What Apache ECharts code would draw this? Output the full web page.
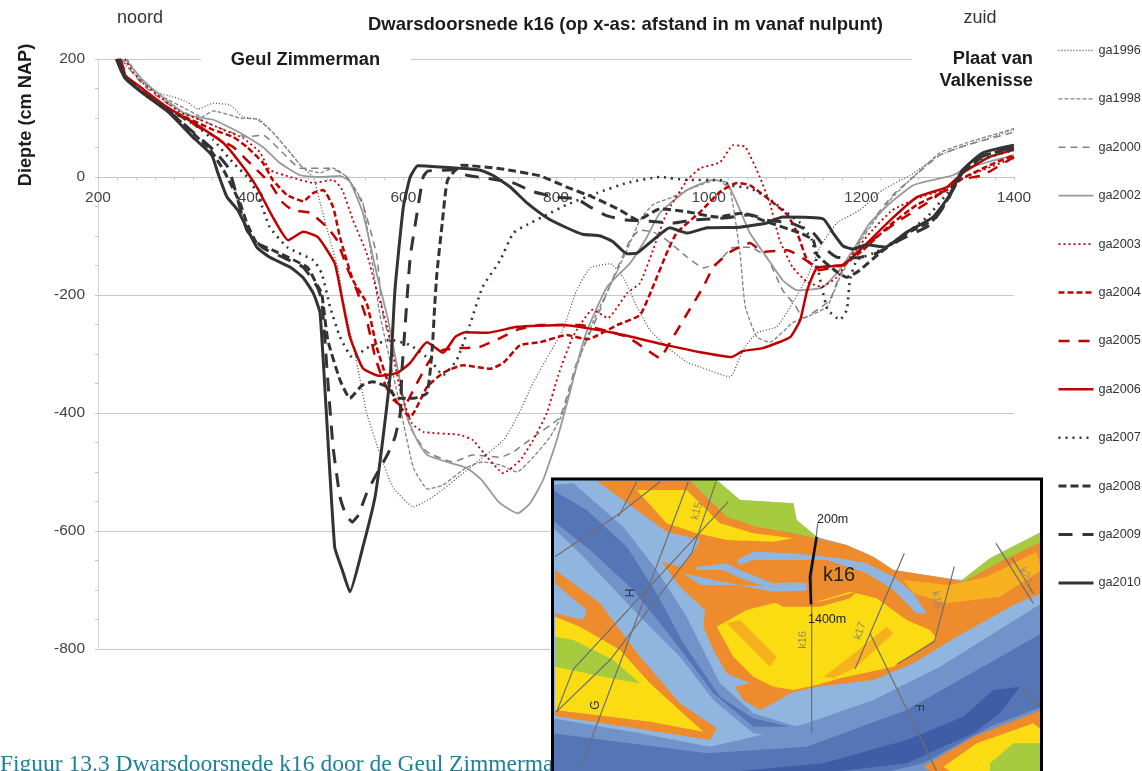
<!DOCTYPE html>
<html><head><meta charset="utf-8">
<style>html,body{margin:0;padding:0;background:#fff;overflow:hidden}#c{width:1142px;height:771px}</style>
<script src="https://cdn.jsdelivr.net/npm/echarts@6/dist/echarts.min.js"></script>
</head><body><div id="c"></div>
<script>
const yearNames=['ga1996','ga1998','ga2000','ga2002','ga2003','ga2004','ga2005','ga2006','ga2007','ga2008','ga2009','ga2010'];
const ga1996=[[229,200],[259,159],[275,144],[298,136],[317,127],[331,115],[351,125],[373,122],[390,102],[412,97],[429,75],[452,41],[469,15],[482,0],[491,-44],[504,-107],[514,-153],[521,-208],[539,-315],[552,-400],[569,-468],[586,-525],[613,-559],[639,-542],[683,-497],[731,-446],[749,-407],[770,-349],[792,-298],[809,-259],[827,-192],[845,-154],[871,-147],[888,-170],[906,-220],[923,-259],[945,-288],[972,-314],[989,-322],[1028,-339],[1045,-293],[1063,-264],[1089,-254],[1107,-220],[1129,-170],[1146,-119],[1168,-78],[1198,-56],[1228,-22],[1264,3],[1303,37],[1338,54],[1400,80]];
const ga1998=[[238,200],[259,161],[288,134],[317,114],[336,102],[351,112],[386,100],[408,98],[429,76],[452,41],[469,15],[491,7],[508,15],[526,0],[547,-44],[569,-231],[592,-366],[613,-492],[632,-529],[652,-522],[683,-492],[704,-483],[727,-488],[749,-500],[770,-475],[792,-441],[809,-400],[827,-322],[848,-247],[868,-192],[893,-124],[910,-73],[927,-47],[953,-34],[972,-22],[1011,-5],[1028,-22],[1041,-129],[1048,-220],[1063,-271],[1080,-280],[1110,-247],[1129,-237],[1155,-220],[1172,-170],[1194,-119],[1215,-78],[1241,-34],[1268,0],[1303,41],[1338,58],[1400,82]];
const ga2000=[[231,200],[259,156],[294,122],[334,97],[395,68],[416,71],[442,41],[465,15],[504,15],[526,0],[547,-47],[565,-132],[573,-231],[592,-322],[609,-424],[631,-466],[665,-483],[691,-471],[727,-475],[744,-466],[770,-441],[805,-407],[827,-315],[854,-237],[871,-183],[897,-107],[910,-90],[927,-93],[945,-107],[972,-136],[993,-154],[1011,-146],[1031,-120],[1054,-119],[1076,-136],[1097,-192],[1113,-217],[1124,-239],[1146,-222],[1159,-208],[1172,-166],[1194,-115],[1215,-73],[1241,-31],[1268,0],[1303,37],[1338,54],[1400,76]];
const ga2002=[[235,200],[259,164],[281,139],[317,105],[351,97],[386,75],[416,51],[438,24],[465,3],[491,0],[517,2],[530,-8],[547,-61],[565,-163],[580,-242],[592,-322],[605,-407],[618,-446],[631,-471],[657,-483],[683,-493],[703,-514],[723,-548],[736,-561],[750,-570],[766,-553],[783,-514],[801,-446],[818,-366],[829,-310],[841,-259],[867,-186],[897,-146],[919,-102],[936,-61],[972,-22],[1006,-5],[1024,-10],[1037,-44],[1054,-95],[1076,-136],[1097,-175],[1116,-192],[1148,-188],[1168,-163],[1189,-124],[1211,-78],[1238,-44],[1268,-14],[1294,-5],[1320,3],[1333,12],[1365,25],[1400,37]];
const ga2003=[[235,200],[246,178],[259,159],[307,110],[334,97],[364,80],[390,66],[412,42],[425,12],[452,0],[482,-10],[508,-5],[520,-22],[534,-73],[552,-129],[565,-192],[579,-254],[596,-361],[611,-417],[626,-432],[674,-437],[691,-446],[710,-475],[731,-502],[753,-480],[770,-446],[788,-400],[803,-336],[822,-271],[848,-225],[868,-239],[893,-197],[910,-180],[927,-124],[945,-61],[972,-5],[989,15],[1015,25],[1032,54],[1048,51],[1067,0],[1080,-44],[1093,-107],[1110,-153],[1129,-178],[1148,-186],[1168,-170],[1185,-137],[1211,-95],[1241,-56],[1273,-36],[1307,-22],[1333,-2],[1359,12],[1400,32]];
const ga2004=[[228,200],[238,168],[259,142],[294,114],[351,80],[377,68],[395,51],[416,24],[429,-5],[448,-31],[469,-41],[482,-27],[495,-22],[508,-51],[517,-102],[534,-175],[552,-214],[565,-288],[579,-344],[592,-383],[609,-407],[631,-356],[652,-332],[678,-319],[714,-325],[731,-315],[753,-285],[779,-280],[814,-268],[841,-275],[880,-251],[910,-234],[927,-186],[945,-129],[958,-95],[989,-59],[1015,-25],[1037,-10],[1054,-14],[1080,-39],[1103,-64],[1116,-95],[1129,-141],[1142,-153],[1176,-149],[1202,-124],[1238,-81],[1273,-47],[1312,-22],[1333,-2],[1368,20],[1400,37]];
const ga2005=[[229,200],[239,168],[259,144],[294,114],[360,63],[377,51],[408,12],[425,-10],[441,-42],[455,-56],[478,-61],[500,-85],[513,-107],[526,-153],[539,-192],[552,-242],[563,-305],[572,-339],[585,-375],[600,-390],[615,-356],[635,-310],[652,-293],[678,-290],[700,-288],[727,-273],[749,-259],[779,-251],[831,-251],[893,-271],[919,-293],[936,-307],[949,-281],[972,-231],[993,-186],[1006,-153],[1028,-127],[1054,-112],[1071,-127],[1103,-124],[1133,-146],[1142,-158],[1176,-149],[1202,-119],[1247,-76],[1286,-44],[1329,-5],[1359,3],[1400,34]];
const ga2006=[[226,200],[235,173],[255,153],[290,119],[330,88],[364,58],[386,24],[408,-17],[429,-68],[449,-107],[469,-93],[488,-102],[510,-146],[520,-208],[530,-271],[547,-324],[569,-337],[592,-332],[609,-315],[631,-280],[652,-298],[668,-271],[681,-263],[710,-264],[749,-254],[809,-251],[875,-264],[945,-285],[989,-297],[1030,-305],[1045,-295],[1071,-290],[1107,-271],[1120,-242],[1129,-192],[1142,-154],[1176,-149],[1202,-119],[1238,-73],[1273,-34],[1312,-17],[1333,7],[1368,34],[1400,46]];
const ga2007=[[228,200],[237,168],[259,142],[294,113],[330,85],[351,63],[377,24],[399,-5],[412,-39],[425,-85],[448,-119],[482,-141],[493,-163],[504,-220],[517,-271],[534,-307],[552,-290],[583,-276],[609,-285],[635,-310],[652,-336],[670,-310],[687,-251],[704,-186],[727,-141],[744,-95],[762,-81],[788,-64],[814,-47],[854,-27],[893,-10],[936,0],[972,-5],[1015,-5],[1028,-14],[1054,-19],[1076,-34],[1103,-61],[1120,-78],[1135,-107],[1148,-186],[1156,-225],[1172,-242],[1181,-225],[1185,-175],[1194,-141],[1220,-127],[1250,-103],[1286,-68],[1316,-22],[1333,12],[1368,34],[1400,46]];
const ga2008=[[226,200],[237,168],[259,142],[294,110],[347,46],[366,8],[386,-44],[395,-78],[408,-112],[429,-124],[474,-153],[487,-183],[493,-197],[501,-276],[517,-344],[530,-375],[546,-353],[560,-347],[579,-356],[592,-375],[613,-375],[631,-366],[638,-288],[641,-220],[644,-163],[651,-78],[658,-5],[677,20],[727,14],[779,2],[814,-17],[848,-34],[884,-56],[907,-73],[936,-54],[972,-59],[1011,-68],[1045,-61],[1076,-76],[1120,-95],[1137,-107],[1142,-132],[1165,-158],[1181,-170],[1198,-158],[1224,-129],[1260,-95],[1294,-73],[1314,-36],[1333,8],[1362,37],[1400,49]];
const ga2009=[[224,200],[235,168],[259,142],[294,110],[351,46],[370,17],[376,-5],[395,-90],[416,-120],[442,-136],[469,-153],[487,-186],[493,-208],[501,-344],[508,-458],[517,-542],[524,-570],[533,-585],[541,-573],[552,-536],[563,-508],[579,-471],[589,-441],[596,-400],[598,-332],[602,-259],[609,-136],[618,-61],[626,0],[632,10],[665,12],[683,3],[714,-3],[744,-10],[770,-25],[801,-34],[827,-37],[845,-51],[867,-66],[893,-73],[923,-75],[953,-78],[979,-73],[1024,-69],[1054,-64],[1076,-73],[1107,-78],[1137,-95],[1155,-124],[1168,-136],[1194,-137],[1220,-129],[1250,-107],[1290,-81],[1312,-42],[1333,12],[1362,37],[1400,51]];
const ga2010=[[225,200],[235,168],[259,142],[294,108],[324,68],[349,37],[357,7],[369,-34],[383,-56],[408,-119],[425,-136],[452,-153],[469,-171],[482,-197],[491,-231],[510,-627],[520,-666],[530,-703],[547,-627],[563,-542],[573,-446],[583,-332],[589,-192],[600,-51],[609,0],[619,19],[648,17],[700,12],[717,3],[740,-17],[762,-44],[788,-69],[814,-86],[835,-97],[858,-100],[875,-110],[893,-130],[906,-129],[927,-107],[949,-86],[972,-95],[998,-86],[1041,-85],[1076,-78],[1097,-68],[1150,-71],[1163,-95],[1176,-117],[1189,-122],[1207,-115],[1231,-119],[1260,-93],[1294,-68],[1314,-34],[1333,12],[1359,41],[1400,54]];

const seriesData=[ga1996,ga1998,ga2000,ga2002,ga2003,ga2004,ga2005,ga2006,ga2007,ga2008,ga2009,ga2010];
const lineColors=['#555555','#808080','#808080','#999999','#c00000','#c00000','#c00000','#c00000','#333333','#333333','#333333','#333333'];
const lineWidths=[1.3,1.3,1.5,1.8,1.8,2.5,2.5,2.5,2.6,3,3,3];
const lineDashes=[[1,2],[4,2],[7,5],'solid',[2,3],[6,3],[11,9],'solid',[2,5],[8,4],[14,10],'solid'];

const FONT='"Liberation Sans",Arial,sans-serif';
function txt(x,y,t,size,weight,align,color,extra){
  return Object.assign({type:'text',x:x,y:y,z:60,silent:true,style:{text:t,font:(weight||'normal')+' '+size+'px '+FONT,fill:color||'#1c1c1c',textAlign:align||'center',textVerticalAlign:'middle'}},extra||{});
}
function poly(pts,fill,extra){
  return Object.assign({type:'polygon',z:70,silent:true,shape:{points:pts},style:{fill:fill}},extra||{});
}
function pl(pts,w,c){
  return {type:'polyline',z:71,silent:true,shape:{points:pts},style:{fill:null,stroke:c||'#6e6e6e',lineWidth:w||3.6}};
}
const OR='#ee8b2c',YE='#fbdc12',LB='#90b5de',MB='#7193ca',DB='#5575b6',DP='#3f5ca6',GR='#a6cb3f',OY='#f7b01e';
const mapChildren=[
  {type:'rect',z:70,silent:true,shape:{x:37,y:28,width:1468,height:875},style:{fill:LB}},
  poly([[37,45],[100,40],[250,170],[350,300],[440,440],[540,640],[640,730],[770,770],[770,800],[640,790],[520,690],[420,560],[300,440],[130,260],[37,170]],MB),
  poly([[37,60],[140,120],[260,230],[350,370],[430,520],[540,680],[640,745],[750,770],[640,770],[520,670],[400,510],[280,360],[150,240],[37,150]],DB),
  poly([[37,745],[300,790],[510,830],[640,800],[800,760],[1000,690],[1200,590],[1505,400],[1505,903],[37,903]],MB),
  poly([[37,790],[500,850],[800,830],[1100,720],[1400,550],[1505,490],[1505,710],[1350,770],[1150,880],[1050,903],[37,903]],DB),
  poly([[1270,740],[1360,660],[1440,650],[1380,730],[1300,790],[1100,880],[900,903],[600,903],[850,880],[1100,810]],DP),
  poly([[530,30],[600,90],[760,100],[770,150],[830,200],[920,225],[1000,260],[1060,300],[1220,325],[1270,330],[1350,265],[1505,185],[1505,30]],'#ffffff'),
  poly([[450,30],[530,30],[600,90],[760,100],[770,150],[835,205],[740,190],[640,170],[560,140]],GR),
  poly([[1262,332],[1350,265],[1505,185],[1505,255],[1400,295],[1310,325]],GR),
  poly([[170,32],[450,32],[560,140],[650,170],[760,190],[830,205],[920,225],[1000,260],[1060,300],[1220,325],[1270,335],[1390,270],[1505,215],[1505,370],[1430,400],[1340,450],[1250,500],[1120,580],[1000,630],[830,650],[750,670],[700,700],[660,720],[610,690],[585,650],[630,640],[560,610],[520,540],[490,470],[495,420],[420,350],[365,275],[420,290],[455,255],[480,210],[380,185],[290,120]],OR),
  poly([[290,60],[440,60],[540,160],[640,190],[760,205],[700,215],[560,210],[470,190],[380,160]],YE),
  poly([[1090,330],[1230,345],[1340,320],[1490,245],[1505,300],[1380,380],[1220,400],[1120,370]],OY),
  poly([[530,470],[620,420],[700,400],[830,395],[930,365],[1010,385],[1100,450],[1170,480],[1190,505],[1060,590],[900,625],[830,645],[760,660],[700,650],[640,620],[580,560]],YE),
  poly([[560,460],[600,450],[710,560],[690,590]],OY),
  poly([[850,620],[930,560],[1040,470],[1060,490],[950,590],[880,625]],OY),
  poly([[700,395],[840,395],[950,365],[930,385],[840,410],[730,410]],OR),
  poly([[45,300],[180,400],[300,560],[420,700],[530,775],[510,810],[320,780],[45,738]],OR),
  poly([[45,340],[140,420],[130,450],[45,430]],LB),
  poly([[45,440],[120,470],[240,540],[330,640],[440,740],[490,785],[330,755],[45,720]],YE),
  poly([[45,500],[100,510],[220,570],[300,640],[240,630],[140,610],[45,590]],GR),
  poly([[1150,890],[1300,800],[1505,720],[1505,903],[1170,903]],OR),
  poly([[1210,890],[1310,820],[1480,760],[1505,780],[1505,903],[1230,903]],YE),
  poly([[1350,880],[1420,820],[1505,820],[1505,903],[1350,903]],GR),
  poly([[590,270],[640,245],[760,250],[900,265],[980,280],[1060,320],[1120,370],[1160,430],[1130,430],[1060,360],[980,310],[860,270],[740,270],[640,270],[600,285]],LB),
  poly([[430,310],[520,330],[600,345],[720,350],[800,340],[800,362],[700,365],[590,345],[480,345]],LB),
  poly([[470,290],[560,280],[600,300],[700,340],[800,335],[790,350],[680,350],[600,325],[550,300],[470,300]],LB),
  poly([[470,262],[550,262],[555,280],[470,285]],OR),
  poly([[610,285],[760,275],[850,275],[960,315],[900,350],[800,340],[700,330],[640,310]],OR),
  pl([[45,260],[240,130],[360,35]]),pl([[235,140],[290,35]]),
  pl([[445,35],[125,885]]),pl([[528,35],[455,250],[210,570],[50,725]]),pl([[565,95],[100,597],[50,725]]),
  pl([[833,160],[815,320],[815,790]]),pl([[1093,250],[945,597]]),pl([[990,490],[1190,903]]),
  pl([[1243,290],[1183,515],[1072,582]],3.6),pl([[1368,220],[1480,400]]),pl([[1415,262],[1480,370]]),pl([[1450,660],[1500,710]]),
  pl([[830,200],[810,320],[813,403]],8,'#111111')
];

const elements=[
  {type:'rect',z:55,silent:true,shape:{x:201,y:54,width:210,height:10},style:{fill:'#fff'}},
  {type:'rect',z:55,silent:true,shape:{x:912,y:54,width:110,height:10},style:{fill:'#fff'}},
  txt(140,18,'noord',18,'normal','center','#333'),
  txt(980,18,'zuid',18,'normal','center','#333'),
  txt(625.5,25,'Dwarsdoorsnede k16 (op x-as: afstand in m vanaf nulpunt)',18.5,'bold'),
  txt(305.5,60,'Geul Zimmerman',18.3,'bold'),
  txt(1033,59,'Plaat van',18.3,'bold','right'),
  txt(1033,81,'Valkenisse',18.3,'bold','right'),
  txt(26,115,'Diepte (cm NAP)',18.2,'bold','center','#1c1c1c',{rotation:Math.PI/2}),
  {type:'text',x:0,y:777,z:62,silent:true,style:{text:'Figuur 13.3 Dwarsdoorsnede k16 door de Geul Zimmerman',font:'23.5px "Liberation Serif",serif',fill:'#1f8096',textAlign:'left',textVerticalAlign:'bottom'}},
  {type:'group',x:540,y:470,scaleX:1/3,scaleY:1/3,z:70,children:mapChildren},
  {type:'rect',z:75,silent:true,shape:{x:552.5,y:479,width:489,height:300},style:{fill:null,stroke:'#000',lineWidth:3}},
  txt(817,520,'200m',12.5,'normal','left','#222',{z:76}),
  txt(808,620,'1400m',12.5,'normal','left','#222',{z:76}),
  txt(823,575,'k16',20,'normal','left','#222',{z:76}),
  txt(697,511,'k15',11,'normal','center','#a08a5a',{z:76,rotation:Math.PI/2.4}),
  txt(803,640,'k16',11,'normal','center','#8a8a6a',{z:76,rotation:Math.PI/2}),
  txt(860,631,'k17',11,'normal','center','#8a8a6a',{z:76,rotation:Math.PI/2.5}),
  txt(937,600,'k18',11,'normal','center','#a08a7a',{z:76,rotation:-Math.PI/2.3}),
  txt(1026,576,'k21',11,'normal','center','#a08a7a',{z:76,rotation:-Math.PI/3}),
  txt(631,593,'H',12,'normal','center','#333',{z:76,rotation:Math.PI/2}),
  txt(596,705,'G',12,'normal','center','#333',{z:76,rotation:Math.PI/2}),
  txt(918,708,'F',12,'normal','center','#333',{z:76,rotation:-Math.PI/2})
];

const chart=echarts.init(document.getElementById('c'),null,{renderer:'canvas',width:1142,height:771});
chart.setOption({
  animation:false,backgroundColor:'#fff',
  grid:{left:98,right:128,top:59,bottom:122,containLabel:false},
  xAxis:{type:'value',min:200,max:1400,interval:200,
    axisLine:{show:true,onZero:true,lineStyle:{color:'#c4c4c4',width:1.2}},
    axisTick:{show:true,length:3,lineStyle:{color:'#c4c4c4'}},
    minorTick:{show:true,splitNumber:8,length:3,lineStyle:{color:'#c4c4c4'}},
    axisLabel:{color:'#444',fontFamily:'Liberation Sans',fontSize:15.5,margin:-459,formatter:v=>String(v)},
    splitLine:{show:false}},
  yAxis:{type:'value',min:-800,max:200,interval:200,
    axisLine:{show:true,onZero:false,lineStyle:{color:'#d4d4d4'}},
    axisTick:{show:true,length:3,lineStyle:{color:'#c4c4c4'}},
    minorTick:{show:true,splitNumber:4,length:3,lineStyle:{color:'#c4c4c4'}},
    axisLabel:{color:'#444',fontFamily:'Liberation Sans',fontSize:15.5,margin:13},
    splitLine:{show:true,lineStyle:{color:'#c8c8c8',width:1.2}}},
  legend:{show:true,orient:'vertical',left:1057,top:44,itemWidth:35,itemHeight:14,itemGap:35.4,padding:0,
    selectedMode:false,
    data:yearNames.map((n,i)=>({name:n,lineStyle:{color:lineColors[i],width:lineWidths[i],type:lineDashes[i],opacity:1}})),
    itemStyle:{opacity:0},
    textStyle:{color:'#333',fontFamily:'Liberation Sans',fontSize:12.7}},
  series:yearNames.map((n,i)=>({name:n,type:'line',data:seriesData[i],symbol:'none',smooth:0.15,clip:true,z:10+i,
    lineStyle:{color:lineColors[i],width:lineWidths[i],type:lineDashes[i]},itemStyle:{color:lineColors[i]}})),
  graphic:{elements:elements}
});
</script></body></html>
